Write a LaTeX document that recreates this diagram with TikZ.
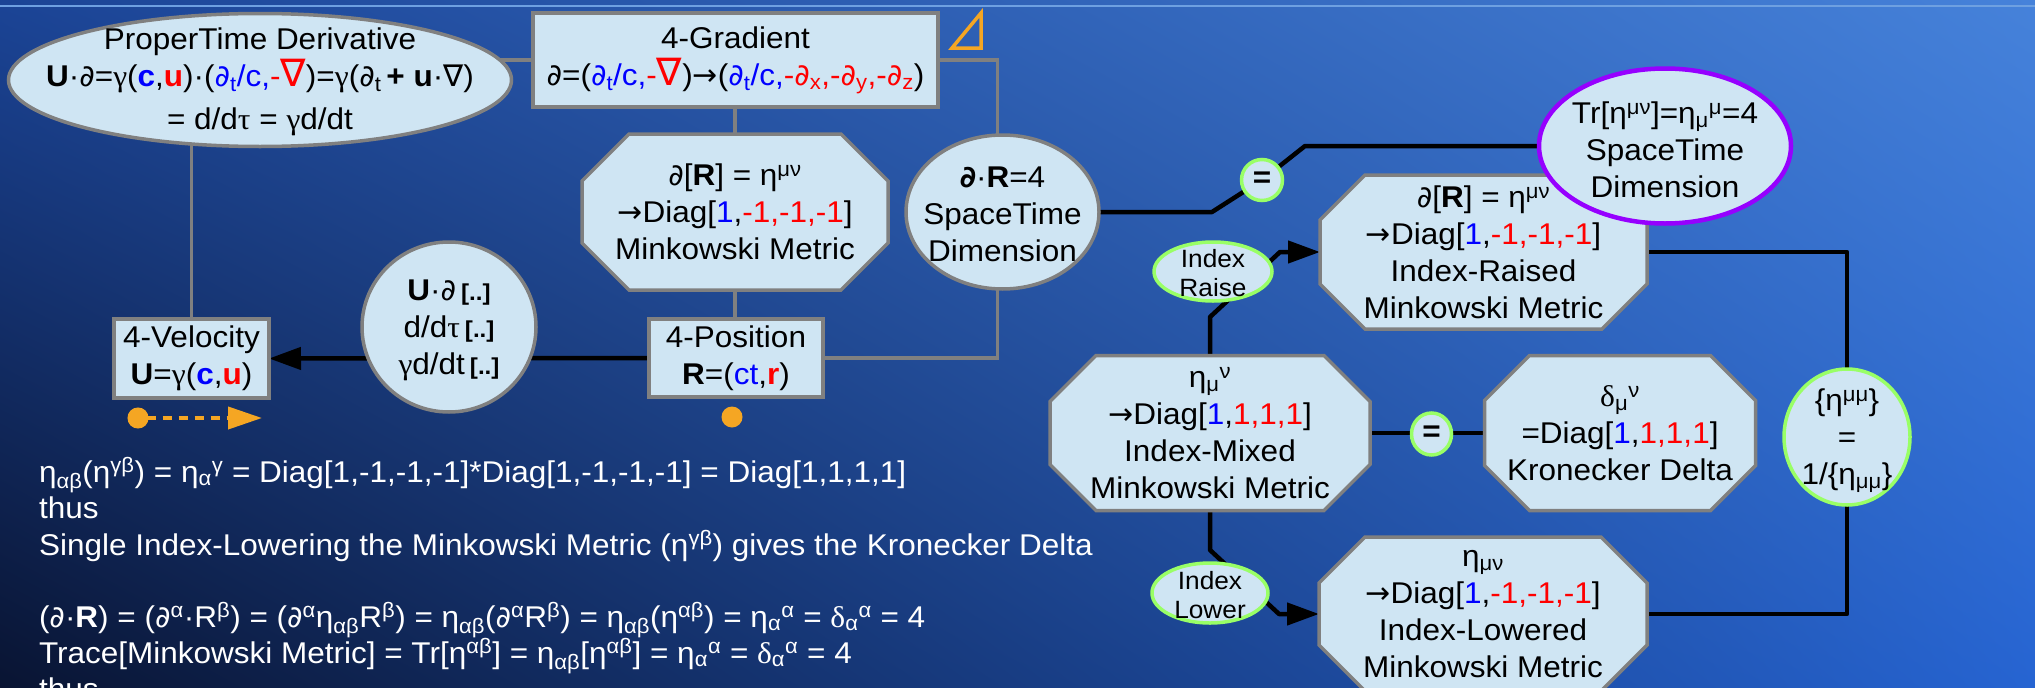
\documentclass[tikz,border=0pt]{standalone}
\usepackage{fontspec}
\setmainfont{Liberation Sans}[FakeStretch=1.05]
\newfontfamily\grk{Liberation Serif}[FakeStretch=1.05]
\newfontfamily\dvs{DejaVu Sans}
\usetikzlibrary{shapes.geometric,arrows.meta,calc,shadings}
\definecolor{fillb}{RGB}{207,229,243}
\definecolor{bord}{RGB}{128,128,128}
\definecolor{grn}{RGB}{153,255,102}
\definecolor{purp}{RGB}{150,0,255}
\definecolor{orng}{RGB}{245,166,35}
\definecolor{tblue}{RGB}{0,0,255}
\definecolor{tred}{RGB}{255,0,0}
\definecolor{bgUL}{RGB}{27,68,150}
\definecolor{bgUR}{RGB}{70,130,218}
\definecolor{bgLL}{RGB}{9,20,50}
\definecolor{bgLR}{RGB}{38,100,210}
\definecolor{topl}{RGB}{110,160,225}
\newcommand\blu[1]{\textcolor{tblue}{#1}}
\newcommand\rd[1]{\textcolor{tred}{#1}}
\newcommand\Pd{{\dvs\itshape ∂}}
\newcommand\Pdb{{\dvs\bfseries\itshape ∂}}
\newcommand\gk[1]{{\grk #1}}
\newcommand\sps[1]{\textsuperscript{#1}}
\newcommand\sbs[1]{\textsubscript{#1}}
\newcommand\arr{{\dvs →}}
\newcommand\nab{{\fontsize{38}{38}\selectfont\dvs ∇}}
\newcommand\bdots{{\fontsize{23}{23}\selectfont\textbf{[..]}}}
\pgfdeclarelayer{bg}
\pgfdeclarelayer{lines}
\pgfdeclarelayer{shp}
\pgfsetlayers{bg,lines,shp,main}
\tikzset{
  every node/.style={font=\fontsize{30}{37}\selectfont, align=center, inner sep=0pt, outer sep=0pt},
  lbox/.style={draw=bord, fill=fillb, line width=3.5pt, rectangle},
  lell/.style={draw=bord, fill=fillb, line width=3.5pt, ellipse},
  gell/.style={draw=grn, fill=fillb, line width=3.5pt, ellipse},
  pell/.style={draw=purp, fill=fillb, line width=4.5pt, ellipse},
  octsty/.style={draw=bord, fill=fillb, line width=3.5pt, line join=miter},
  gline/.style={draw=bord, line width=3.5pt},
  bline/.style={draw=black, line width=4.5pt, line join=round},
  barrow/.style={bline, -{Triangle[length=32pt,width=22pt]}},
  wtxt/.style={text=white, anchor=base west},
}
\newcommand\octo[2]{%
  \begin{pgfonlayer}{shp}
  \draw[octsty] ([xshift=#2pt]#1.north west) -- ([xshift=-#2pt]#1.north east)
    -- ([yshift=-#2pt]#1.north east) -- ([yshift=#2pt]#1.south east)
    -- ([xshift=-#2pt]#1.south east) -- ([xshift=#2pt]#1.south west)
    -- ([yshift=#2pt]#1.south west) -- ([yshift=-#2pt]#1.north west) -- cycle;
  \end{pgfonlayer}}
\begin{document}
\begin{tikzpicture}[x=1pt, y=-1pt]
\useasboundingbox (0,0) rectangle (2035,688);
\begin{pgfonlayer}{bg}
  \shade[shading=bilinear interpolation, upper left=bgUL, upper right=bgUR, lower left=bgLL, lower right=bgLR] (0,0) rectangle (2035,688);
  \draw[topl, line width=2.5pt] (0,6) -- (2035,6);
\end{pgfonlayer}

% ---------- left group ----------
\node[lell, minimum width=503, minimum height=133] (pt) at (260,80) {};
\node (ptt) at (260,82) {ProperTime Derivative\\
  \textbf{U}·\Pd=\gk{γ}(\blu{\textbf{c}},\rd{\textbf{u}})·(\blu{\Pd\sbs{t}/c,}\rd{-\nab})=\gk{γ}(\Pd\sbs{t}\,\textbf{+ u}·{\dvs ∇})\\[6pt]
  = d/d\gk{τ} = \gk{γ}d/dt};

\node[lbox, minimum width=405, minimum height=94] (grad) at (735.5,60)
  {4-Gradient\\\Pd=(\blu{\Pd\sbs{t}/c,}\rd{-\nab})\arr(\blu{\Pd\sbs{t}/c,}\rd{-\Pd\sbs{x},-\Pd\sbs{y},-\Pd\sbs{z}})};
\draw[orng, line width=3.5pt, line join=miter] (952,48) -- (981,48) -- (981,13) -- cycle;

\node[minimum width=306, minimum height=156] (mink) at (735,212)
  {\Pd[\textbf{R}] = η\sps{μν}\\\arr Diag[\blu{1},\rd{-1,-1,-1}]\\Minkowski Metric};
\octo{mink}{47}

\node[lell, minimum width=193, minimum height=154] (st) at (1002.5,212) {};
\node (stt) at (1002.5,214) {\Pdb·\textbf{R}=4\\SpaceTime\\Dimension};

\node[lell, minimum width=174, minimum height=170] (ud) at (449,327) {};
\node (udt) at (449,330) {\textbf{U}·\Pd\,\bdots\\d/d\gk{τ}\,\bdots\\\gk{γ}d/dt\,\bdots};

\node[lbox, minimum width=155, minimum height=79] (vel) at (191.5,358.5)
  {4-Velocity\\\textbf{U}=\gk{γ}(\blu{\textbf{c}},\rd{\textbf{u}})};
\node[lbox, minimum width=174, minimum height=78] (pos) at (736,358)
  {4-Position\\\textbf{R}=(\blu{ct},\rd{\textbf{r}})};

\node[circle, fill=orng, minimum size=21] (odot) at (732,417) {};
\coordinate (oa) at (127.5,418);
\coordinate (ob) at (262,418);
\draw[orng, line width=4pt, dash pattern=on 9pt off 7pt,
  {Circle[length=21pt]}-{Triangle[length=34pt,width=22pt]}] (oa) -- (ob);

% ---------- right group ----------
\node[gell, minimum width=41, minimum height=41] (eq1) at (1262,180) {};
\node (eq1t) at (1262,180) {\textbf{=}};

\node[pell, minimum width=252, minimum height=155] (tr) at (1665,146) {};
\node (trt) at (1665,150) {Tr[η\sps{μν}]=η\sbs{μ}\sps{μ}=4\\SpaceTime\\Dimension};

\node[minimum width=327, minimum height=154] (raised) at (1483.5,252)
  {\Pd[\textbf{R}] = η\sps{μν}\\\arr Diag[\blu{1},\rd{-1,-1,-1}]\\Index-Raised\\Minkowski Metric};
\octo{raised}{45}

\node[gell, minimum width=118, minimum height=59] (raise) at (1213,271.5) {};
\node[font=\fontsize{25}{29}\selectfont] (raiset) at (1213,273) {Index\\Raise};

\node[minimum width=320, minimum height=155] (mixed) at (1210,433)
  {η\sbs{μ}\sps{ν}\\\arr Diag[\blu{1},\rd{1,1,1}]\\Index-Mixed\\Minkowski Metric};
\octo{mixed}{46}

\node[gell, minimum width=40, minimum height=42] (eq2) at (1431.5,434) {};
\node (eq2t) at (1431.5,434) {\textbf{=}};

\node[minimum width=271, minimum height=155] (kron) at (1620,433)
  {\gk{δ}\sbs{μ}\sps{ν}\\=Diag[\blu{1},\rd{1,1,1}]\\Kronecker Delta};
\octo{kron}{45}

\node[gell, minimum width=116, minimum height=60] (lower) at (1210,593) {};
\node[font=\fontsize{25}{29}\selectfont] (lowert) at (1210,595) {Index\\Lower};

\node[minimum width=328, minimum height=154] (lowered) at (1483,614)
  {η\sbs{μν}\\\arr Diag[\blu{1},\rd{-1,-1,-1}]\\Index-Lowered\\Minkowski Metric};
\octo{lowered}{46}

\node[gell, minimum width=126, minimum height=136] (inv) at (1847,437) {};
\node (invt) at (1847,441) {\{η\sps{μμ}\}\\=\\1/\{η\sbs{μμ}\}};

% ---------- bottom text ----------
\node[wtxt] (b1) at (39,482) {η\sbs{αβ}(η\sps{γβ}) = η\sbs{α}\sps{γ} = Diag[1,-1,-1,-1]*Diag[1,-1,-1,-1] = Diag[1,1,1,1]};
\node[wtxt] (b2) at (39,518) {thus};
\node[wtxt] (b3) at (39,555) {Single Index-Lowering the Minkowski Metric (η\sps{γβ}) gives the Kronecker Delta};
\node[wtxt] (b4) at (39,627) {(\Pd·\textbf{R}) = (\Pd\sps{α}·R\sps{β}) = (\Pd\sps{α}η\sbs{αβ}R\sps{β}) = η\sbs{αβ}(\Pd\sps{α}R\sps{β}) = η\sbs{αβ}(η\sps{αβ}) = η\sbs{α}\sps{α} = \gk{δ}\sbs{α}\sps{α} = 4};
\node[wtxt] (b5) at (39,663) {Trace[Minkowski Metric] = Tr[η\sps{αβ}] = η\sbs{αβ}[η\sps{αβ}] = η\sbs{α}\sps{α} = \gk{δ}\sbs{α}\sps{α} = 4};
\node[wtxt] (b6) at (39,699) {thus};

% ---------- connectors ----------
\begin{pgfonlayer}{lines}
  \draw[gline] (grad.west) -- (grad.west -| pt.center);
  \draw[gline] (grad.east) -| ([xshift=-5pt]st.north);
  \draw[gline] (mink.north) -- (mink.north |- grad.south);
  \draw[gline] (mink.south) -- (mink.south |- pos.north);
  \draw[gline] ([xshift=-5pt]st.south) |- (pos.east);
  \draw[gline] (vel.north) -- (vel.north |- pt.center);
  \draw[barrow] (pos.west) -- (vel.east);
  \coordinate (kA) at (1212,212);
  \coordinate (kB) at (1305,146);
  \draw[bline] (st.east) -- (kA) -- (eq1.center) -- (kB) -- (tr.west);
  \coordinate (kC) at (1210,317);
  \coordinate (kD) at (1280,252);
  \draw[barrow] (mixed.north) -- (kC) -- (kD) -- (raised.west);
  \coordinate (kE) at (1210,550);
  \coordinate (kF) at (1279,614);
  \draw[barrow] (mixed.south) -- (kE) -- (kF) -- (lowered.west);
  \draw[bline] (mixed.east) -- (kron.west);
  \draw[bline] (raised.east) -| (inv.north);
  \draw[bline] (inv.south) |- (lowered.east);
\end{pgfonlayer}
\end{tikzpicture}
\end{document}
